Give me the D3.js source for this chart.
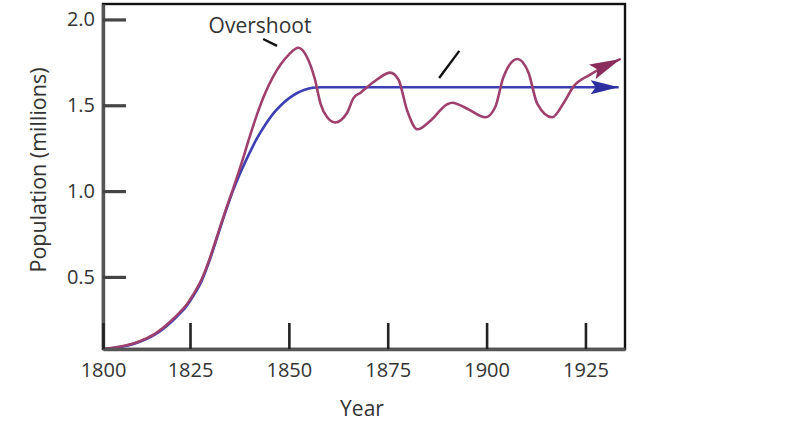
<!DOCTYPE html>
<html>
<head>
<meta charset="utf-8">
<script src="https://cdn.jsdelivr.net/npm/d3@7"></script>
<style>
  html, body { margin: 0; padding: 0; background: #fff; }
  svg { display: block; }
  text { font-family: "Open Sans", "Noto Sans", sans-serif; fill: #333; }
</style>
</head>
<body>
<svg id="chart" width="796" height="448"></svg>
<script>
// ---- data ----
const xTicks = [1800, 1825, 1850, 1875, 1900, 1925];
const yTicks = [0.5, 1.0, 1.5, 2.0];

const logisticYears  = [1800, 1805, 1810, 1815, 1820, 1822, 1824, 1826, 1828, 1830, 1832, 1834, 1836, 1838, 1840, 1842, 1844, 1846, 1848, 1850, 1852, 1854, 1856, 1858, 1933.4];
const logisticValues = [0.08, 0.092, 0.118, 0.165, 0.245, 0.285, 0.33, 0.395, 0.48, 0.6, 0.74, 0.88, 1.01, 1.12, 1.22, 1.31, 1.385, 1.45, 1.5, 1.54, 1.57, 1.59, 1.602, 1.605, 1.605];

const overshootYears  = [1800, 1805, 1810, 1815, 1820, 1822, 1824, 1826, 1828, 1830, 1832, 1834, 1836, 1838, 1840, 1842, 1844, 1846, 1848, 1850, 1852.4, 1854.6, 1856.6, 1858, 1859.7, 1861.7, 1864.7, 1866.3, 1868.2, 1872.3, 1875.6, 1877.7, 1879.9, 1882.5, 1885.8, 1890, 1891.3, 1895.1, 1899.7, 1902.2, 1904.2, 1907.8, 1910.6, 1912.8, 1916.6, 1919.4, 1922, 1926.3, 1933.9];
const overshootValues = [0.08, 0.094, 0.121, 0.17, 0.252, 0.292, 0.338, 0.404, 0.489, 0.608, 0.748, 0.888, 1.02, 1.16, 1.31, 1.45, 1.57, 1.665, 1.74, 1.795, 1.835, 1.78, 1.65, 1.51, 1.43, 1.40, 1.455, 1.54, 1.575, 1.65, 1.69, 1.65, 1.47, 1.36, 1.41, 1.505, 1.515, 1.48, 1.43, 1.49, 1.66, 1.77, 1.69, 1.51, 1.43, 1.51, 1.61, 1.68, 1.77];

const overshootLabel = "Overshoot";
const overshootLabelAt = [1842.7, 1.92];
const overshootLeader = [[1843.5, 1.886], [1847.0, 1.846]];
const markLine = [[1888.0, 1.659], [1893.1, 1.817]];

const xTitle = "Year";
const yTitle = "Population (millions)";

// ---- layout ----
const svg = d3.select("#chart");
const mLeft = 103, mRight = 625, mTop = 4, mBottom = 349;

const x = d3.scaleLinear().domain([1800, 1825, 1935]).range([mLeft, 190, mRight]);
const y = d3.scaleLinear().domain([0.08, 2.09]).range([mBottom, mTop]);

const purple = "#9e3f6d", purpleHead = "#8a2c5c";
const blue = "#3c3fb2", blueHead = "#2c2fa0";

const defs = svg.append("defs");
function marker(id, color, len, half) {
  defs.append("marker")
    .attr("id", id)
    .attr("viewBox", `0 ${-half} ${len} ${half * 2}`)
    .attr("refX", len).attr("refY", 0)
    .attr("markerWidth", len).attr("markerHeight", half * 2)
    .attr("markerUnits", "userSpaceOnUse")
    .attr("orient", "auto")
    .append("path")
    .attr("d", `M0,${-half}L${len},0L0,${half}L${len * 0.18},0Z`)
    .attr("fill", color);
}
marker("arrowBlue", blueHead, 28, 7);
marker("arrowPurple", purpleHead, 31, 8);

// frame
svg.append("rect")
  .attr("x", mLeft).attr("y", mTop)
  .attr("width", mRight - mLeft).attr("height", mBottom - mTop)
  .attr("fill", "none").attr("stroke", "#111").attr("stroke-width", 2.4);

// curves
const logisticData = logisticYears.map((d, i) => [d, logisticValues[i]]);
const overshootData = overshootYears.map((d, i) => [d, overshootValues[i]]);

svg.append("path")
  .datum(logisticData)
  .attr("d", d3.line().x(d => x(d[0])).y(d => y(d[1])).curve(d3.curveMonotoneX))
  .attr("fill", "none").attr("stroke", blue).attr("stroke-width", 2.6)
  .attr("marker-end", "url(#arrowBlue)");

svg.append("path")
  .datum(overshootData)
  .attr("d", d3.line().x(d => x(d[0])).y(d => y(d[1])).curve(d3.curveMonotoneX))
  .attr("fill", "none").attr("stroke", purple).attr("stroke-width", 2.6)
  .attr("marker-end", "url(#arrowPurple)");

// axes
const yAxis = svg.append("g")
  .attr("transform", `translate(${mLeft},0)`)
  .call(d3.axisLeft(y).tickValues(yTicks).tickFormat(d3.format(".1f")).tickSizeInner(-23).tickSizeOuter(0).tickPadding(8));
yAxis.select(".domain").attr("stroke", "#555").attr("stroke-width", 3.4);
yAxis.selectAll(".tick line").attr("stroke", "#444").attr("stroke-width", 3.2);
yAxis.selectAll(".tick text").style("font-size", "20px").style("font-family", "'Open Sans', sans-serif").attr("fill", "#3a3a3a").attr("x", -8);

const xAxis = svg.append("g")
  .attr("transform", `translate(0,${mBottom})`)
  .call(d3.axisBottom(x).tickValues(xTicks).tickFormat(d3.format("d")).tickSizeInner(-26).tickSizeOuter(0).tickPadding(8));
xAxis.select(".domain").attr("stroke", "#555").attr("stroke-width", 3.4);
xAxis.selectAll(".tick line").attr("stroke", "#222").attr("stroke-width", 2.6);
xAxis.selectAll(".tick text").style("font-size", "20px").style("font-family", "'Open Sans', sans-serif").attr("fill", "#3a3a3a").attr("y", 14);

// titles
svg.append("text")
  .attr("x", 362).attr("y", 416)
  .attr("text-anchor", "middle")
  .style("font-size", "21px")
  .attr("fill", "#3a3a3a")
  .text(xTitle);

svg.append("text")
  .attr("transform", `translate(46,170) rotate(-90)`)
  .attr("text-anchor", "middle")
  .style("font-size", "21.5px")
  .attr("fill", "#3a3a3a")
  .text(yTitle);

// annotations
svg.append("text")
  .attr("x", x(overshootLabelAt[0])).attr("y", y(overshootLabelAt[1]))
  .attr("text-anchor", "middle")
  .style("font-size", "21px")
  .attr("fill", "#3a3a3a")
  .text(overshootLabel);

const seg = d3.line().x(d => x(d[0])).y(d => y(d[1]));
svg.append("path").attr("d", seg(overshootLeader)).attr("stroke", "#111").attr("stroke-width", 2.4).attr("fill", "none");
svg.append("path").attr("d", seg(markLine)).attr("stroke", "#111").attr("stroke-width", 2.4).attr("fill", "none");
</script>
</body>
</html>
